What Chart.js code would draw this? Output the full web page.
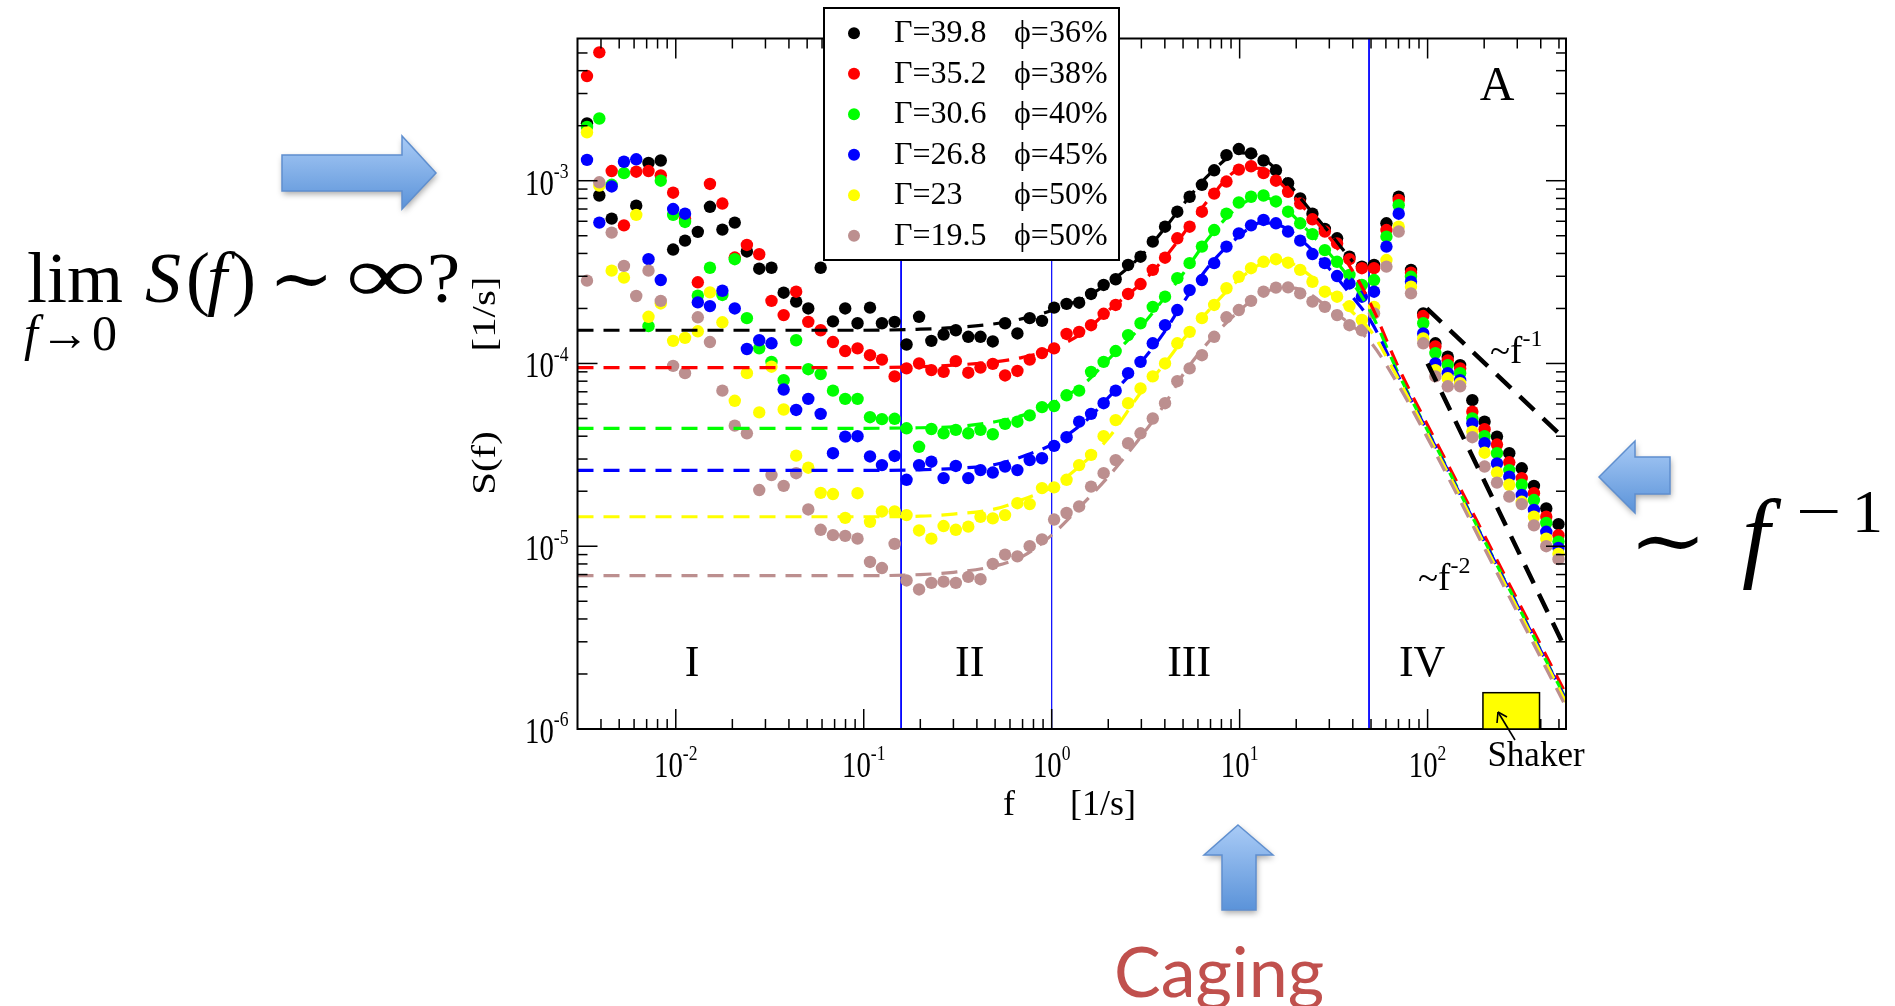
<!DOCTYPE html>
<html lang="es">
<head>
<meta charset="utf-8">
<title>S(f)</title>
<script src="https://cdn.jsdelivr.net/npm/chart.js@4.4.1/dist/chart.umd.min.js"></script>
<style>
  html, body { margin: 0; padding: 0; background: #fff; overflow: hidden; }
  #contenedor { position: relative; width: 1895px; height: 1006px; }
</style>
</head>
<body>
<div id="contenedor"><canvas id="espectro"></canvas></div>
<script>
// Frecuencias de la malla logarítmica [1/s]
const frecuencias = [
  0.00337, 0.00392, 0.00456, 0.0053, 0.00616, 0.00716, 0.00832, 0.00968, 0.0112, 0.0131,
  0.0152, 0.0177, 0.0206, 0.0239, 0.0278, 0.0323, 0.0375, 0.0437, 0.0507, 0.059,
  0.0686, 0.0797, 0.0927, 0.108, 0.125, 0.146, 0.169, 0.197, 0.229, 0.266,
  0.309, 0.36, 0.418, 0.486, 0.565, 0.657, 0.764, 0.888, 1.03, 1.2,
  1.4, 1.62, 1.89, 2.19, 2.55, 2.97, 3.45, 4.01, 4.66, 5.42,
  6.3, 7.32, 8.51, 9.9, 11.5, 13.4, 15.6, 18.1, 21.0, 24.4,
  28.4, 33.0, 38.4, 44.7, 51.9, 60.4, 70.2, 81.6, 94.8, 110,
  128, 149, 173, 201, 234, 272, 317, 368, 428, 497,
];

// Espectros medidos S(f) [1/s]
const serieNegra = [
  2.06e-3, 8.3e-4, 6.2e-4, null, 7.3e-4, 1.25e-3, 1.29e-3, 4.2e-4, 4.7e-4, 5.25e-4,
  7.2e-4, 5.4e-4, 5.9e-4, 4.1e-4, 3.3e-4, 3.34e-4, 2.44e-4, 2.18e-4, 2.0e-4, 3.34e-4,
  1.7e-4, 2.0e-4, 1.66e-4, 2.02e-4, 1.66e-4, 1.69e-4, 1.27e-4, 1.8e-4, 1.33e-4, 1.44e-4,
  1.52e-4, 1.4e-4, 1.4e-4, 1.32e-4, 1.66e-4, 1.46e-4, 1.77e-4, 1.71e-4, 2.02e-4, 2.12e-4,
  2.15e-4, 2.4e-4, 2.69e-4, 2.89e-4, 3.46e-4, 3.84e-4, 4.64e-4, 5.6e-4, 6.77e-4, 8.17e-4,
  9.5e-4, 1.14e-3, 1.38e-3, 1.49e-3, 1.41e-3, 1.29e-3, 1.14e-3, 9.7e-4, 8.0e-4, 6.6e-4,
  5.45e-4, 4.84e-4, 3.84e-4, 3.39e-4, 3.46e-4, 5.85e-4, 8.17e-4, 3.25e-4, 1.88e-4, 1.29e-4,
  1.09e-4, 9.8e-5, 6.3e-5, 4.8e-5, 3.98e-5, 3.23e-5, 2.67e-5, 2.14e-5, 1.61e-5, 1.32e-5,
];
const serieRoja = [
  3.74e-3, 5.04e-3, 1.13e-3, 5.7e-4, 1.12e-3, 1.13e-3, 1.07e-3, 8.6e-4, 6.2e-4, 2.78e-4,
  9.6e-4, 7.5e-4, 3.8e-4, 4.45e-4, 3.96e-4, 2.2e-4, 1.84e-4, 2.47e-4, 1.69e-4, 1.52e-4,
  1.31e-4, 1.17e-4, 1.21e-4, 1.11e-4, 1.05e-4, 8.5e-5, 9.4e-5, 1.0e-4, 9.2e-5, 9.0e-5,
  1.03e-4, 8.9e-5, 9.5e-5, 9.95e-5, 8.6e-5, 9.1e-5, 1.05e-4, 1.14e-4, 1.21e-4, 1.45e-4,
  1.49e-4, 1.62e-4, 1.87e-4, 2.09e-4, 2.4e-4, 2.72e-4, 3.25e-4, 3.79e-4, 4.84e-4, 5.6e-4,
  6.77e-4, 8.5e-4, 9.9e-4, 1.15e-3, 1.2e-3, 1.1e-3, 1.0e-3, 8.7e-4, 7.5e-4, 6.15e-4,
  5.27e-4, 4.54e-4, 3.72e-4, 3.32e-4, 3.32e-4, 5.37e-4, 7.86e-4, 3.14e-4, 1.82e-4, 1.24e-4,
  1.04e-4, 9.4e-5, 5.45e-5, 4.37e-5, 3.6e-5, 2.88e-5, 2.36e-5, 1.95e-5, 1.45e-5, 1.15e-5,
];
const serieVerde = [
  1.97e-3, 2.19e-3, 9.5e-4, 1.1e-3, null, 1.6e-4, 1.0e-3, 6.5e-4, 5.95e-4, 2.35e-4,
  3.34e-4, 2.37e-4, 3.72e-4, 1.77e-4, 1.21e-4, 1.02e-4, 8.1e-5, 1.34e-4, 9.3e-5, 8.75e-5,
  7.1e-5, 6.4e-5, 6.4e-5, 5.08e-5, 4.96e-5, 4.98e-5, 4.42e-5, 3.5e-5, 4.38e-5, 4.15e-5,
  4.33e-5, 4.15e-5, 4.33e-5, 4.1e-5, 4.67e-5, 4.8e-5, 5.2e-5, 5.77e-5, 5.85e-5, 6.7e-5,
  7.1e-5, 9.0e-5, 1.02e-4, 1.17e-4, 1.43e-4, 1.66e-4, 2.04e-4, 2.32e-4, 2.93e-4, 3.54e-4,
  4.36e-4, 5.37e-4, 6.6e-4, 7.6e-4, 8.17e-4, 8.3e-4, 7.7e-4, 6.77e-4, 5.85e-4, 5.1e-4,
  4.17e-4, 3.6e-4, 3.05e-4, 2.69e-4, 2.86e-4, 4.94e-4, 7.35e-4, 2.98e-4, 1.66e-4, 1.14e-4,
  9.8e-5, 8.85e-5, 5.0e-5, 4.0e-5, 3.23e-5, 2.61e-5, 2.17e-5, 1.79e-5, 1.34e-5, 1.06e-5,
];
const serieAzul = [
  1.3e-3, 5.9e-4, 9.3e-4, 1.27e-3, 1.31e-3, 3.72e-4, 2.86e-4, 7.0e-4, 6.6e-4, 2.16e-4,
  2.06e-4, 2.5e-4, 2.0e-4, 1.2e-4, 1.34e-4, 1.29e-4, 7.2e-5, 5.57e-5, 6.4e-5, 5.3e-5,
  3.23e-5, 3.98e-5, 4.0e-5, 3.1e-5, 2.78e-5, 3.12e-5, 2.31e-5, 2.78e-5, 2.9e-5, 2.36e-5,
  2.75e-5, 2.36e-5, 2.61e-5, 2.53e-5, 2.73e-5, 2.61e-5, 2.96e-5, 3.03e-5, 3.54e-5, 3.95e-5,
  4.8e-5, 5.3e-5, 6.06e-5, 7.1e-5, 8.85e-5, 1.02e-4, 1.29e-4, 1.62e-4, 1.96e-4, 2.52e-4,
  2.86e-4, 3.54e-4, 4.36e-4, 5.15e-4, 5.7e-4, 6.1e-4, 5.85e-4, 5.27e-4, 4.7e-4, 3.97e-4,
  3.54e-4, 3.01e-4, 2.74e-4, 2.32e-4, 2.47e-4, 4.36e-4, 6.6e-4, 2.8e-4, 1.46e-4, 1.0e-4,
  8.85e-5, 8.1e-5, 4.7e-5, 3.66e-5, 2.84e-5, 2.4e-5, 1.91e-5, 1.58e-5, 1.2e-5, 9.8e-6,
];
const serieAmarilla = [
  1.84e-3, 9.4e-4, 3.22e-4, 2.95e-4, 6.5e-4, 1.8e-4, 2.13e-4, 1.33e-4, 1.38e-4, 1.5e-4,
  2.45e-4, 1.68e-4, 6.25e-5, 8.85e-5, 5.4e-5, 9.6e-5, 5.6e-5, 3.13e-5, 2.69e-5, 1.96e-5,
  1.93e-5, 1.43e-5, 1.95e-5, 1.36e-5, 1.55e-5, 1.55e-5, 1.48e-5, 1.22e-5, 1.1e-5, 1.29e-5,
  1.23e-5, 1.28e-5, 1.45e-5, 1.42e-5, 1.48e-5, 1.72e-5, 1.7e-5, 2.08e-5, 2.1e-5, 2.31e-5,
  2.78e-5, 3.16e-5, 4.0e-5, 4.9e-5, 6.06e-5, 7.3e-5, 8.5e-5, 1.0e-4, 1.29e-4, 1.49e-4,
  1.77e-4, 2.09e-4, 2.58e-4, 2.98e-4, 3.32e-4, 3.6e-4, 3.72e-4, 3.56e-4, 3.25e-4, 2.8e-4,
  2.47e-4, 2.32e-4, 2.06e-4, 1.73e-4, 2.04e-4, 3.68e-4, 5.6e-4, 2.63e-4, 1.37e-4, 9.2e-5,
  8.3e-5, 7.8e-5, 4.24e-5, 3.25e-5, 2.53e-5, 2.17e-5, 1.75e-5, 1.45e-5, 1.1e-5, 9.1e-6,
];
const serieMarron = [
  2.84e-4, 9.8e-4, 5.2e-4, 3.42e-4, 2.34e-4, 3.22e-4, 2.2e-4, 9.7e-5, 8.85e-5, 1.79e-4,
  1.31e-4, 7.1e-5, 4.57e-5, 4.15e-5, 2.03e-5, 2.45e-5, 2.14e-5, 2.51e-5, 1.59e-5, 1.23e-5,
  1.15e-5, 1.14e-5, 1.1e-5, 8.2e-6, 7.6e-6, 1.03e-5, 6.5e-6, 5.8e-6, 6.3e-6, 6.4e-6,
  6.3e-6, 6.8e-6, 6.6e-6, 8.0e-6, 9.0e-6, 8.8e-6, 1.0e-5, 1.09e-5, 1.4e-5, 1.52e-5,
  1.65e-5, 2.12e-5, 2.51e-5, 2.96e-5, 3.66e-5, 4.15e-5, 5.0e-5, 6.06e-5, 8.0e-5, 9.4e-5,
  1.11e-4, 1.4e-4, 1.79e-4, 1.96e-4, 2.2e-4, 2.47e-4, 2.6e-4, 2.61e-4, 2.42e-4, 2.18e-4,
  2.04e-4, 1.84e-4, 1.62e-4, 1.52e-4, 1.88e-4, 3.39e-4, 5.27e-4, 2.42e-4, 1.29e-4, 8.5e-5,
  7.5e-5, 7.5e-5, 3.95e-5, 2.73e-5, 2.23e-5, 1.87e-5, 1.7e-5, 1.3e-5, 1.0e-5, 8.5e-6,
];

// Curvas de ajuste (líneas discontinuas)
const frecAjuste = [0.003, 0.01, 0.03, 0.1, 0.2, 0.3, 0.5, 0.7, 1, 1.5, 2, 3, 4, 5, 7, 10, 13, 17, 22, 30, 40, 50, 70, 100, 150, 200, 300, 400, 545];
const ajusteNegro = [1.52e-4, 1.52e-4, 1.52e-4, 1.52e-4, 1.54e-4, 1.57e-4, 1.65e-4, 1.76e-4, 1.95e-4, 2.3e-4, 2.75e-4, 3.9e-4, 5.5e-4, 7.4e-4, 1.1e-3, 1.42e-3, 1.35e-3, 1.05e-3, 7.6e-4, 5.2e-4, 3.6e-4, null, null, null, null, null, null, null, null];
const ajusteRojo = [9.5e-5, 9.5e-5, 9.5e-5, 9.5e-5, 9.6e-5, 9.8e-5, 1.02e-4, 1.08e-4, 1.2e-4, 1.5e-4, 1.95e-4, 2.75e-4, 3.8e-4, 5.1e-4, 8.1e-4, 1.15e-3, 1.17e-3, 9.4e-4, 7.1e-4, 4.9e-4, 3.2e-4, 2.1e-4, 9.5e-5, 4.6e-5, 2.05e-5, 1.15e-5, 5.1e-6, 2.88e-6, 1.55e-6];
const ajusteVerde = [4.42e-5, 4.42e-5, 4.42e-5, 4.42e-5, 4.45e-5, 4.5e-5, 4.8e-5, 5.2e-5, 6.0e-5, 7.8e-5, 1.05e-4, 1.6e-4, 2.3e-4, 3.1e-4, 5.0e-4, 7.3e-4, 8.2e-4, 7.2e-4, 5.6e-4, 4.0e-4, 2.75e-4, 1.9e-4, 8.8e-5, 4.3e-5, 1.93e-5, 1.08e-5, 4.8e-6, 2.7e-6, 1.46e-6];
const ajusteAzul = [2.6e-5, 2.6e-5, 2.6e-5, 2.6e-5, 2.62e-5, 2.66e-5, 2.8e-5, 3.1e-5, 3.6e-5, 4.8e-5, 6.5e-5, 1.02e-4, 1.5e-4, 2.15e-4, 3.5e-4, 5.0e-4, 5.9e-4, 5.6e-4, 4.6e-4, 3.3e-4, 2.3e-4, 1.7e-4, 8.5e-5, 4.25e-5, 1.9e-5, 1.07e-5, 4.75e-6, 2.68e-6, 1.44e-6];
const ajusteAmarillo = [1.45e-5, 1.45e-5, 1.45e-5, 1.45e-5, 1.46e-5, 1.5e-5, 1.6e-5, 1.8e-5, 2.1e-5, 2.9e-5, 3.9e-5, 7.0e-5, 1.0e-4, 1.35e-4, 2.0e-4, 2.9e-4, 3.5e-4, 3.65e-4, 3.2e-4, 2.45e-4, 1.9e-4, 1.5e-4, 8.2e-5, 4.1e-5, 1.85e-5, 1.03e-5, 4.6e-6, 2.6e-6, 1.4e-6];
const ajusteMarron = [6.9e-6, 6.9e-6, 6.9e-6, 6.9e-6, 7.0e-6, 7.2e-6, 7.8e-6, 8.8e-6, 1.15e-5, 1.75e-5, 2.4e-5, 4.0e-5, 6.0e-5, 8.7e-5, 1.35e-4, 1.95e-4, 2.4e-4, 2.6e-4, 2.5e-4, 2.0e-4, 1.6e-4, 1.3e-4, 7.6e-5, 3.9e-5, 1.75e-5, 9.8e-6, 4.35e-6, 2.45e-6, 1.32e-6];

// Rectas de referencia ~f^-1 y ~f^-2
const frecPendienteUno = [99, 545];
const pendienteUno = [2.0e-4, 3.8e-5];
const frecPendienteDos = [100, 545];
const pendienteDos = [1.0e-4, 2.7e-6];

// Leyenda
const etiquetasGamma = ["Γ=39.8", "Γ=35.2", "Γ=30.6", "Γ=26.8", "Γ=23", "Γ=19.5"];
const etiquetasPhi = ["ϕ=36%", "ϕ=38%", "ϕ=40%", "ϕ=45%", "ϕ=50%", "ϕ=50%"];

// Ejes
const ticksX = [0.01, 0.1, 1, 10, 100];
const exponentesX = ["-2", "-1", "0", "1", "2"];
const ticksY = [1e-6, 1e-5, 1e-4, 1e-3];
const exponentesY = ["-6", "-5", "-4", "-3"];

// Regiones I-IV y banda del agitador
const limitesRegiones = [0.158, 1.0, 48.8];
const nombresRegiones = ["I", "II", "III", "IV"];
const centrosRegiones = [0.0122, 0.366, 5.39, 93.5];
const bandaShaker = [197, 394];
const alturaShaker = 1.58e-6;

const colores = ["#000000", "#ff0000", "#00ff00", "#0000ff", "#ffff00", "#bc8f8f"];
const SERIF = '"Liberation Serif", "DejaVu Serif", serif';

const puntos = (xs, ys) => xs.map((f, i) => ({ x: f, y: ys[i] })).filter((p) => p.y !== null);

const texto = (ctx, cadena, x, y, opciones = {}) => {
  const { tam = 30, familia = SERIF, estilo = "", escalaX = 1, alinear = "left", base = "alphabetic", color = "#000", giro = 0 } = opciones;
  ctx.save();
  ctx.translate(x, y);
  if (giro) ctx.rotate(giro);
  ctx.scale(escalaX, 1);
  ctx.font = `${estilo} ${tam}px ${familia}`.trim();
  ctx.textAlign = alinear;
  ctx.textBaseline = base;
  ctx.fillStyle = color;
  ctx.fillText(cadena, 0, 0);
  const ancho = ctx.measureText(cadena).width * escalaX;
  ctx.restore();
  return ancho;
};

// Texto estirado para ocupar exactamente [x, x + ancho]
const ajustado = (ctx, cadena, x, y, ancho, opciones = {}) => {
  const { tam = 30, familia = SERIF, estilo = "" } = opciones;
  ctx.save();
  ctx.font = `${estilo} ${tam}px ${familia}`.trim();
  const m = ctx.measureText(cadena);
  const natural = m.actualBoundingBoxLeft + m.actualBoundingBoxRight;
  ctx.restore();
  const escala = ancho / natural;
  texto(ctx, cadena, x + m.actualBoundingBoxLeft * escala, y, { ...opciones, escalaX: escala });
};

// "10" con exponente en superíndice
const potencia = (ctx, exponente, x, y, alinear, tam, escalaX) => {
  const tamExp = Math.round(tam * 0.62);
  ctx.save();
  ctx.font = `${tam}px ${SERIF}`;
  const anchoBase = ctx.measureText("10").width * escalaX;
  ctx.font = `${tamExp}px ${SERIF}`;
  const anchoExp = ctx.measureText(exponente).width * escalaX;
  ctx.restore();
  const total = anchoBase + anchoExp;
  const x0 = alinear === "center" ? x - total / 2 : x - total;
  texto(ctx, "10", x0, y, { tam, escalaX });
  texto(ctx, exponente, x0 + anchoBase, y - tam * 0.46, { tam: tamExp, escalaX });
};

const menores = (min, max) => {
  const lista = [];
  for (let d = Math.pow(10, Math.floor(Math.log10(min))); d < max; d *= 10) {
    for (let m = 2; m <= 9; m++) {
      const v = d * m;
      if (v > min * 1.02 && v < max * 0.98) lista.push(v);
    }
  }
  return lista;
};

const linea = (ctx, x1, y1, x2, y2) => {
  ctx.beginPath();
  ctx.moveTo(x1, y1);
  ctx.lineTo(x2, y2);
  ctx.stroke();
};

// Flechas de bloque azules con degradado y sombra
const flecha = (ctx, vertices) => {
  const ys = vertices.map((v) => v[1]);
  ctx.save();
  const grad = ctx.createLinearGradient(0, Math.min(...ys), 0, Math.max(...ys));
  grad.addColorStop(0, "#a9cbf6");
  grad.addColorStop(1, "#5b93d9");
  ctx.beginPath();
  vertices.forEach(([x, y], i) => (i ? ctx.lineTo(x, y) : ctx.moveTo(x, y)));
  ctx.closePath();
  ctx.shadowColor = "rgba(0,0,0,0.35)";
  ctx.shadowBlur = 6;
  ctx.shadowOffsetX = 1;
  ctx.shadowOffsetY = 3;
  ctx.fillStyle = grad;
  ctx.fill();
  ctx.shadowColor = "transparent";
  ctx.strokeStyle = "#5f8fcf";
  ctx.lineWidth = 1.5;
  ctx.stroke();
  ctx.restore();
};

const decoraciones = {
  id: "decoraciones",
  beforeDatasetsDraw(chart) {
    const { ctx, chartArea: a, scales: { x } } = chart;
    ctx.save();
    ctx.strokeStyle = "#0000ff";
    limitesRegiones.forEach((f, i) => {
      ctx.lineWidth = i === 1 ? 1.2 : 1.8;
      const px = x.getPixelForValue(f);
      linea(ctx, px, a.top, px, a.bottom);
    });
    ctx.restore();
  },
  afterDraw(chart) {
    const { ctx, chartArea: a, scales: { x, y } } = chart;
    ctx.save();

    // Rótulos de regiones
    nombresRegiones.forEach((n, i) => {
      texto(ctx, n, x.getPixelForValue(centrosRegiones[i]), y.getPixelForValue(1.95e-6), { tam: 44, alinear: "center" });
    });

    // Marco y marcas hacia dentro en los cuatro lados
    ctx.strokeStyle = "#000";
    ctx.lineWidth = 1.5;
    ticksX.forEach((v) => {
      const px = x.getPixelForValue(v);
      linea(ctx, px, a.bottom, px, a.bottom - 20);
      linea(ctx, px, a.top, px, a.top + 20);
    });
    menores(x.min, x.max).forEach((v) => {
      const px = x.getPixelForValue(v);
      linea(ctx, px, a.bottom, px, a.bottom - 10);
      linea(ctx, px, a.top, px, a.top + 10);
    });
    ticksY.forEach((v) => {
      const py = y.getPixelForValue(v);
      linea(ctx, a.left, py, a.left + 20, py);
      linea(ctx, a.right, py, a.right - 20, py);
    });
    menores(y.min, y.max).forEach((v) => {
      const py = y.getPixelForValue(v);
      linea(ctx, a.left, py, a.left + 10, py);
      linea(ctx, a.right, py, a.right - 10, py);
    });
    ctx.lineWidth = 2;
    ctx.strokeRect(a.left, a.top, a.right - a.left, a.bottom - a.top);

    // Etiquetas de los ejes
    ticksX.forEach((v, i) => potencia(ctx, exponentesX[i], x.getPixelForValue(v), a.bottom + 48, "center", 36, 0.8));
    ticksY.forEach((v, i) => potencia(ctx, exponentesY[i], a.left - 9, y.getPixelForValue(v) + 14, "right", 36, 0.8));
    texto(ctx, "f", 1003, 815, { tam: 36 });
    texto(ctx, "[1/s]", 1070, 815, { tam: 36 });
    texto(ctx, "S(f)", 486, 463, { tam: 34, giro: -Math.PI / 2, escalaX: 1.2, alinear: "center", base: "middle" });
    texto(ctx, "[1/s]", 486, 314, { tam: 34, giro: -Math.PI / 2, escalaX: 1.2, alinear: "center", base: "middle" });

    // Panel A y pendientes
    texto(ctx, "A", x.getPixelForValue(234), y.getPixelForValue(2.77e-3), { tam: 48, alinear: "center" });
    let px = x.getPixelForValue(215);
    let py = y.getPixelForValue(1.0e-4);
    let w = texto(ctx, "~f", px, py, { tam: 37 });
    texto(ctx, "-1", px + w, py - 17, { tam: 24 });
    px = x.getPixelForValue(89);
    py = y.getPixelForValue(5.77e-6);
    w = texto(ctx, "~f", px, py, { tam: 37 });
    texto(ctx, "-2", px + w, py - 17, { tam: 24 });

    // Banda del agitador
    const x1 = x.getPixelForValue(bandaShaker[0]);
    const x2 = x.getPixelForValue(bandaShaker[1]);
    const yTop = y.getPixelForValue(alturaShaker);
    ctx.fillStyle = "#ffff00";
    ctx.fillRect(x1, yTop, x2 - x1, a.bottom - yTop);
    ctx.lineWidth = 1.5;
    ctx.strokeRect(x1, yTop, x2 - x1, a.bottom - yTop);
    ctx.lineWidth = 1.6;
    linea(ctx, 1515, a.bottom + 11, 1498, a.bottom - 17);
    linea(ctx, 1498, a.bottom - 17, 1497, a.bottom - 6);
    linea(ctx, 1498, a.bottom - 17, 1507, a.bottom - 12);
    texto(ctx, "Shaker", 1536, a.bottom + 37, { tam: 35, alinear: "center" });

    // Leyenda
    const caja = { left: 824, top: 8, width: 295, height: 252 };
    ctx.fillStyle = "#fff";
    ctx.fillRect(caja.left, caja.top, caja.width, caja.height);
    ctx.lineWidth = 2;
    ctx.strokeStyle = "#000";
    ctx.strokeRect(caja.left, caja.top, caja.width, caja.height);
    etiquetasGamma.forEach((g, i) => {
      const fila = 33.3 + i * 40.5;
      ctx.beginPath();
      ctx.fillStyle = colores[i];
      ctx.arc(854, fila, 6, 0, Math.PI * 2);
      ctx.fill();
      texto(ctx, g, 894, fila + 9, { tam: 32 });
      texto(ctx, etiquetasPhi[i], 1014, fila + 9, { tam: 32 });
    });

    // Anotaciones exteriores
    flecha(ctx, [[282, 155], [402, 155], [402, 136], [436, 173], [402, 209], [402, 191], [282, 191]]);
    flecha(ctx, [[1599, 477], [1635, 441], [1635, 457], [1670, 457], [1670, 494], [1635, 494], [1635, 513]]);
    flecha(ctx, [[1238, 825], [1273, 855], [1256, 855], [1256, 910], [1222, 910], [1222, 855], [1204, 855]]);

    texto(ctx, "lim", 27, 302, { tam: 72 });
    let xf = 24;
    xf += texto(ctx, "f", xf, 350, { tam: 50, estilo: "italic" });
    xf += texto(ctx, "→", xf + 2, 350, { tam: 50 }) + 4;
    texto(ctx, "0", xf, 350, { tam: 50 });
    texto(ctx, "S", 145, 302, { tam: 72, estilo: "italic" });
    texto(ctx, "(", 186, 302, { tam: 72 });
    texto(ctx, "f", 207, 302, { tam: 72, estilo: "italic" });
    texto(ctx, ")", 232, 302, { tam: 72 });
    ajustado(ctx, "∼", 276, 303, 50, { tam: 72, familia: '"DejaVu Serif", serif' });
    ajustado(ctx, "∞", 350, 302, 72, { tam: 80 });
    ajustado(ctx, "?", 430, 302, 27, { tam: 72 });

    ajustado(ctx, "∼", 1638, 568, 60, { tam: 80, familia: '"DejaVu Serif", serif' });
    texto(ctx, "f", 1742, 569, { tam: 100, estilo: "italic" });
    texto(ctx, "−", 1796, 532, { tam: 62, escalaX: 1.3 });
    texto(ctx, "1", 1852, 532, { tam: 62 });

    texto(ctx, "Caging", 1219, 997, { tam: 70, familia: '"Lato", "Open Sans", sans-serif', alinear: "center", color: "#c0504d" });
    ctx.restore();
  },
};

const nombres = ["negro", "rojo", "verde", "azul", "amarillo", "marron"];
const series = [serieNegra, serieRoja, serieVerde, serieAzul, serieAmarilla, serieMarron];
const ajustes = [ajusteNegro, ajusteRojo, ajusteVerde, ajusteAzul, ajusteAmarillo, ajusteMarron];

const conjuntos = [];
series.forEach((s, i) => {
  conjuntos.push({
    label: nombres[i],
    data: puntos(frecuencias, s),
    showLine: false,
    pointRadius: 6.2,
    pointBorderWidth: 0,
    pointBackgroundColor: colores[i],
    borderColor: colores[i],
    order: 20 - i,
  });
});
ajustes.forEach((s, i) => {
  conjuntos.push({
    label: "ajuste " + nombres[i],
    data: puntos(frecAjuste, s),
    showLine: true,
    pointRadius: 0,
    borderColor: colores[i],
    borderWidth: 3.2,
    borderDash: [16, 10],
    cubicInterpolationMode: "monotone",
    order: 10 - i,
  });
});
[[frecPendienteUno, pendienteUno], [frecPendienteDos, pendienteDos]].forEach(([fx, sy]) => {
  conjuntos.push({
    label: "pendiente",
    data: puntos(fx, sy),
    showLine: true,
    pointRadius: 0,
    borderColor: "#000",
    borderWidth: 4.5,
    borderDash: [20, 12],
    order: 0,
  });
});

new Chart(document.getElementById("espectro"), {
  type: "scatter",
  data: { datasets: conjuntos },
  options: {
    responsive: true,
    maintainAspectRatio: false,
    devicePixelRatio: 1,
    animation: false,
    events: [],
    layout: { padding: { left: 577.5, right: 329, top: 38.5, bottom: 277 } },
    plugins: { legend: { display: false }, tooltip: { enabled: false } },
    scales: {
      x: { type: "logarithmic", min: 0.003, max: 545, display: false },
      y: { type: "logarithmic", min: 1e-6, max: 6e-3, display: false },
    },
  },
  plugins: [decoraciones],
});
</script>
</body>
</html>
